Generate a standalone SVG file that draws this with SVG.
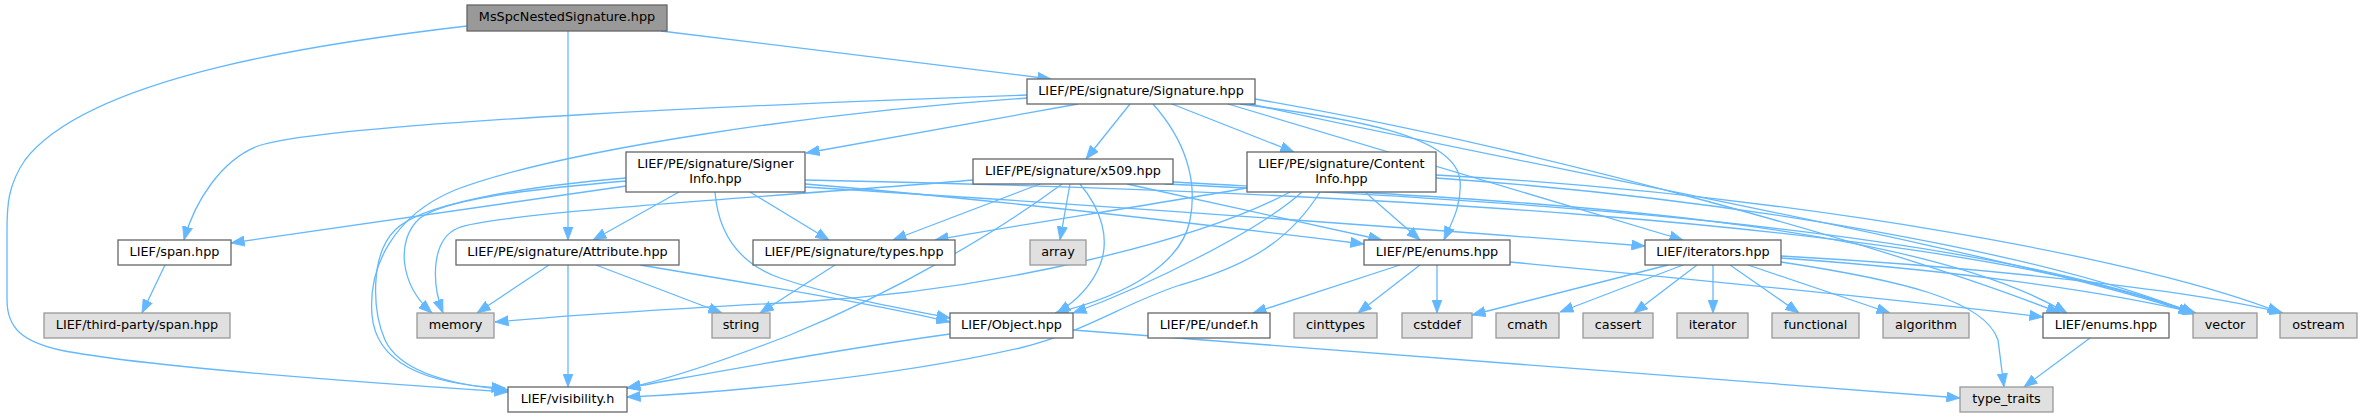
<svg xmlns="http://www.w3.org/2000/svg" width="2362" height="417" viewBox="0 0 2362 417">
<style>
.e{fill:none;stroke:#63b8ff;stroke-width:1.3;marker-end:url(#ah)}
.w{fill:#ffffff;stroke:#666666;stroke-width:1.3}
.g{fill:#e0e0e0;stroke:#999999;stroke-width:1.3}
.r{fill:#999999;stroke:#666666;stroke-width:1.3}
text{font-family:"DejaVu Sans","Liberation Sans",sans-serif;font-size:12.8px;fill:#000;text-anchor:middle}
</style>
<defs>
<marker id="ah" markerUnits="userSpaceOnUse" markerWidth="14" markerHeight="11" viewBox="0 0 14 11" refX="13.5" refY="5.5" orient="auto">
<path d="M0,0.4 L13.5,5.5 L0,10.6 z" fill="#63b8ff" stroke="#63b8ff" stroke-width="0.8"/>
</marker>
</defs>
<rect width="2362" height="417" fill="#ffffff"/>
<g id="edges">
<path class="e" d="M467,26 C330,42 90,75 25,160 C8,185 7,205 7,230 L7,300 C7,330 25,342 60,350 C150,368 400,385 508,392"/>
<path class="e" d="M568,31 L568,240"/>
<path class="e" d="M661,31 L1051,79"/>
<path class="e" d="M1078,104 L806,153"/>
<path class="e" d="M1130,104 L1086,159"/>
<path class="e" d="M1172,104 L1294,152"/>
<path class="e" d="M1027,95 C800,103 330,122 258,146 C222,160 195,200 184,240"/>
<path class="e" d="M1027,98 C820,112 560,150 455,190 C395,215 368,265 372,315 C376,365 430,385 505,388"/>
<path class="e" d="M1153,104 C1185,140 1198,180 1190,220 C1182,262 1130,295 1055,313"/>
<path class="e" d="M1240,104 C1350,118 1455,135 1460,180 C1462,205 1452,222 1444,240"/>
<path class="e" d="M1228,104 L1683,240"/>
<path class="e" d="M1255,99 C1550,150 1900,250 2060,313"/>
<path class="e" d="M1250,104 C1550,170 2000,250 2192,313"/>
<path class="e" d="M679,192 L593,240"/>
<path class="e" d="M750,192 L829,240"/>
<path class="e" d="M626,186 L231,243"/>
<path class="e" d="M626,181 C520,190 445,200 420,218 C395,240 400,285 432,313"/>
<path class="e" d="M626,178 C510,188 420,205 395,230 C370,255 372,310 385,340 C400,372 450,385 508,390"/>
<path class="e" d="M715,192 C718,230 735,262 780,278 C840,298 900,308 950,318"/>
<path class="e" d="M805,184 C1000,200 1250,230 1364,244"/>
<path class="e" d="M805,187 C1100,205 1500,235 1645,246"/>
<path class="e" d="M805,180 C1300,190 1950,220 2195,314"/>
<path class="e" d="M1040,184 L893,240"/>
<path class="e" d="M1062,184 C1000,230 900,290 790,335 C720,362 665,380 627,388"/>
<path class="e" d="M1070,184 L1060,240"/>
<path class="e" d="M1080,184 C1102,210 1110,240 1100,265 C1092,285 1078,300 1057,313"/>
<path class="e" d="M973,180 C800,195 500,212 458,228 C430,240 432,285 443,313"/>
<path class="e" d="M1127,184 L1382,240"/>
<path class="e" d="M1173,182 C1500,200 1900,215 2067,313"/>
<path class="e" d="M1165,184 C1500,200 1950,225 2195,313"/>
<path class="e" d="M1247,188 C1150,205 1000,228 935,240"/>
<path class="e" d="M1290,192 C1200,240 1000,290 800,302 C650,310 540,318 495,322"/>
<path class="e" d="M1302,192 C1260,230 1150,285 1073,313"/>
<path class="e" d="M1320,192 C1290,240 1250,265 1180,285 C1120,305 1090,330 1020,348 C880,380 700,394 627,397"/>
<path class="e" d="M1365,192 L1420,240"/>
<path class="e" d="M1436,178 C1750,200 2050,255 2195,314"/>
<path class="e" d="M1436,175 C1800,195 2150,260 2281,313"/>
<path class="e" d="M549,265 L477,313"/>
<path class="e" d="M568,265 L568,387"/>
<path class="e" d="M596,265 L722,313"/>
<path class="e" d="M640,265 C760,285 880,305 950,322"/>
<path class="e" d="M835,265 L760,313"/>
<path class="e" d="M1400,265 L1253,313"/>
<path class="e" d="M1420,265 L1358,313"/>
<path class="e" d="M1437,265 L1437,313"/>
<path class="e" d="M1510,262 C1700,280 1900,300 2043,317"/>
<path class="e" d="M1668,265 L1472,315"/>
<path class="e" d="M1683,265 L1560,312"/>
<path class="e" d="M1697,265 L1634,313"/>
<path class="e" d="M1713,265 L1713,313"/>
<path class="e" d="M1730,265 L1799,313"/>
<path class="e" d="M1748,265 L1890,313"/>
<path class="e" d="M1781,262 C1900,280 1985,300 1998,340 L2004,387"/>
<path class="e" d="M1781,258 C1950,270 2100,290 2196,313"/>
<path class="e" d="M1781,256 C2000,268 2200,292 2283,313"/>
<path class="e" d="M950,334 C820,352 700,375 627,388"/>
<path class="e" d="M1073,330 L1960,398"/>
<path class="e" d="M2090,338 L2024,387"/>
<path class="e" d="M165,265 L142,313"/>
</g>
<g id="n_root"><rect class="r" x="467" y="5" width="200" height="26"/><text x="567" y="21">MsSpcNestedSignature.hpp</text></g>
<g id="n_signature"><rect class="w" x="1027" y="79" width="228" height="25"/><text x="1141" y="95">LIEF/PE/signature/Signature.hpp</text></g>
<g id="n_span"><rect class="w" x="118" y="240" width="113" height="25"/><text x="174.5" y="256">LIEF/span.hpp</text></g>
<g id="n_tpspan"><rect class="g" x="44" y="313" width="186" height="25"/><text x="137" y="329">LIEF/third-party/span.hpp</text></g>
<g id="n_attribute"><rect class="w" x="456" y="240" width="223" height="25"/><text x="567.5" y="256">LIEF/PE/signature/Attribute.hpp</text></g>
<g id="n_memory"><rect class="g" x="417" y="313" width="77" height="25"/><text x="455.5" y="329">memory</text></g>
<g id="n_string"><rect class="g" x="712" y="313" width="58" height="25"/><text x="741" y="329">string</text></g>
<g id="n_visibility"><rect class="w" x="508" y="387" width="119" height="25"/><text x="567.5" y="403">LIEF/visibility.h</text></g>
<g id="n_signerinfo"><rect class="w" x="626" y="152" width="179" height="40"/><text x="715.5" y="168">LIEF/PE/signature/Signer</text><text x="715.5" y="183">Info.hpp</text></g>
<g id="n_types"><rect class="w" x="753" y="240" width="202" height="25"/><text x="854" y="256">LIEF/PE/signature/types.hpp</text></g>
<g id="n_x509"><rect class="w" x="973" y="159" width="200" height="25"/><text x="1073" y="175">LIEF/PE/signature/x509.hpp</text></g>
<g id="n_array"><rect class="g" x="1030" y="240" width="56" height="25"/><text x="1058" y="256">array</text></g>
<g id="n_contentinfo"><rect class="w" x="1247" y="152" width="189" height="40"/><text x="1341.5" y="168">LIEF/PE/signature/Content</text><text x="1341.5" y="183">Info.hpp</text></g>
<g id="n_peenums"><rect class="w" x="1364" y="240" width="146" height="25"/><text x="1437" y="256">LIEF/PE/enums.hpp</text></g>
<g id="n_object"><rect class="w" x="950" y="313" width="123" height="25"/><text x="1011.5" y="329">LIEF/Object.hpp</text></g>
<g id="n_undef"><rect class="w" x="1148" y="313" width="122" height="25"/><text x="1209" y="329">LIEF/PE/undef.h</text></g>
<g id="n_cinttypes"><rect class="g" x="1294" y="313" width="83" height="25"/><text x="1335.5" y="329">cinttypes</text></g>
<g id="n_cstddef"><rect class="g" x="1402" y="313" width="70" height="25"/><text x="1437" y="329">cstddef</text></g>
<g id="n_cmath"><rect class="g" x="1496" y="313" width="63" height="25"/><text x="1527.5" y="329">cmath</text></g>
<g id="n_cassert"><rect class="g" x="1583" y="313" width="70" height="25"/><text x="1618" y="329">cassert</text></g>
<g id="n_iterator"><rect class="g" x="1677" y="313" width="71" height="25"/><text x="1712.5" y="329">iterator</text></g>
<g id="n_functional"><rect class="g" x="1772" y="313" width="87" height="25"/><text x="1815.5" y="329">functional</text></g>
<g id="n_algorithm"><rect class="g" x="1883" y="313" width="86" height="25"/><text x="1926" y="329">algorithm</text></g>
<g id="n_enums"><rect class="w" x="2043" y="313" width="126" height="25"/><text x="2106" y="329">LIEF/enums.hpp</text></g>
<g id="n_vector"><rect class="g" x="2193" y="313" width="64" height="25"/><text x="2225" y="329">vector</text></g>
<g id="n_ostream"><rect class="g" x="2280" y="313" width="77" height="25"/><text x="2318.5" y="329">ostream</text></g>
<g id="n_typetraits"><rect class="g" x="1960" y="387" width="93" height="25"/><text x="2006.5" y="403">type_traits</text></g>
<g id="n_iterators"><rect class="w" x="1645" y="240" width="136" height="25"/><text x="1713" y="256">LIEF/iterators.hpp</text></g>
</svg>
